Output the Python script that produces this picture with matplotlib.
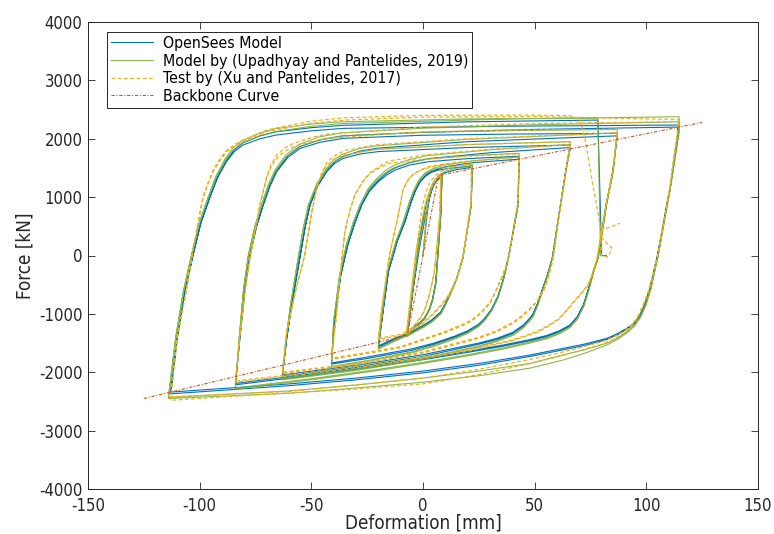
import numpy as np
import matplotlib
matplotlib.use('Agg')
import matplotlib.pyplot as plt

# Load histories as (deformation [mm], force [kN]) vertices, one branch per line
opensees_path = [
    (0, 0), (1.5, 600), (2.7, 950), (4, 1150), (5.5, 1260), (8.5, 1350),
    (7.9, 665), (6.8, 100), (5.7, -476), (4.2, -760), (2.7, -934), (0.5, -1080), (-1.8, -1161), (-5.5, -1260), (-7, -1360),
    (-4.5, -600), (-1.5, 150), (1, 650), (3, 1000), (4.5, 1180), (6, 1280), (8.5, 1370),
    (7.9, 680), (6.8, 110), (5.7, -470), (4.2, -770), (2.7, -940), (0.5, -1090), (-1.8, -1180), (-5.5, -1280), (-7, -1375),
    (-4.5, -600), (-1.5, 300), (1.5, 900), (3.5, 1130), (5, 1250), (7.5, 1360), (10, 1420), (15, 1470), (22, 1510),
    (21.6, 865), (17.8, -48), (15, -400), (12.5, -620), (10, -820), (8, -963), (4, -1100), (0.4, -1190), (-6, -1320), (-12.7, -1418), (-20, -1550),
    (-18.5, -1134), (-15.5, -277), (-11.5, 250), (-8.1, 579), (-5.5, 900), (-3.6, 1093), (-1.5, 1250), (0.9, 1350), (3.5, 1420), (6.8, 1464), (13, 1500), (22, 1530),
    (21.6, 870), (17.8, -40), (15, -410), (12.5, -630), (10, -830), (8, -980), (4, -1120), (0.4, -1210), (-6, -1340), (-12.7, -1440), (-20, -1570),
    (-18.5, -1134), (-15.5, -277), (-11.5, 250), (-8.1, 579), (-5.5, 900), (-3.6, 1093), (-1, 1290), (1.5, 1390), (5, 1460), (10, 1520), (22, 1590), (43, 1650),
    (42.6, 865), (38.2, -48), (36, -400), (33.5, -700), (30.7, -920), (27.5, -1080), (24.8, -1180), (20, -1290), (14.3, -1380), (5, -1500), (-5.1, -1600), (-25, -1740), (-41, -1841),
    (-39.7, -1134), (-36.8, -334), (-33.7, 180), (-30.5, 560), (-27.5, 865), (-24, 1100), (-20, 1264), (-16, 1385), (-12.5, 1464), (-6, 1550), (2.4, 1607), (20, 1660), (43, 1700),
    (42.6, 880), (38.2, -40), (36, -410), (33.5, -715), (30.7, -935), (27.5, -1100), (24.8, -1200), (20, -1310), (14.3, -1400), (5, -1520), (-5.1, -1625), (-25, -1765), (-41, -1860),
    (-39.7, -1134), (-36.8, -334), (-33.7, 180), (-30.5, 560), (-27.5, 865), (-24, 1120), (-20, 1290), (-16, 1420), (-12.5, 1500), (-6, 1590), (2.4, 1660), (30, 1760), (66, 1850),
    (63.9, 1435), (60.9, 693), (57.9, -48), (55.8, -320), (53.6, -563), (51.3, -820), (49, -1020), (45, -1190), (40, -1320), (33, -1420), (25, -1500), (0, -1700), (-30, -1880), (-63, -2047),
    (-61, -1418), (-58.8, -848), (-55, 0), (-52.8, 480), (-50.6, 865), (-47, 1200), (-43.1, 1435), (-39.5, 1580), (-35.7, 1665), (-28, 1740), (-20, 1780), (20, 1850), (66, 1893),
    (63.9, 1450), (60.9, 700), (57.9, -40), (55.8, -325), (53.6, -570), (51.3, -830), (49, -1030), (45, -1205), (40, -1340), (33, -1440), (25, -1520), (0, -1730), (-30, -1905), (-63, -2070),
    (-61, -1418), (-58.8, -848), (-55, 0), (-52.8, 480), (-50.6, 865), (-47, 1210), (-43.1, 1450), (-39.5, 1610), (-35.7, 1700), (-28, 1790), (-20, 1840), (20, 1950), (87, 2050),
    (85, 1435), (82, 865), (78.3, -48), (76.2, -277), (74, -580), (71.8, -848), (69, -1050), (65.8, -1190), (61, -1290), (55.4, -1370), (48, -1440), (35, -1540), (20, -1640), (0, -1760), (-20, -1870), (-50, -2030), (-84, -2190),
    (-82, -1418), (-79.7, -563), (-77.5, 0), (-74.5, 500), (-71.5, 865), (-68.5, 1190), (-65.5, 1435), (-60.5, 1680), (-55, 1836), (-46, 1940), (-35.7, 2007), (0, 2060), (40, 2080), (87, 2093),
    (85, 1450), (82, 870), (78.3, -40), (76.2, -280), (74, -590), (71.8, -860), (69, -1065), (65.8, -1210), (61, -1310), (55.4, -1390), (48, -1460), (35, -1560), (20, -1660), (0, -1785), (-20, -1895), (-50, -2055), (-84, -2215),
    (-82, -1418), (-79.7, -563), (-77.5, 0), (-74.5, 510), (-71.5, 880), (-68.5, 1210), (-65.5, 1460), (-60.5, 1710), (-55, 1870), (-46, 1980), (-35.7, 2050), (0, 2110), (50, 2160), (114, 2200),
    (114.3, 2064), (110.6, 1150), (105, 0), (101.6, -563), (99.5, -820), (97.2, -1020), (94.5, -1160), (91.2, -1248), (87, -1340), (82.3, -1420), (72, -1520), (62.8, -1590), (47.9, -1705), (25, -1850), (0, -1980), (-30, -2100), (-60, -2200), (-113, -2340),
    (-110, -1400), (-106.5, -600), (-103, 0), (-99.5, 550), (-95.5, 985), (-92, 1330), (-88, 1607), (-84.5, 1780), (-80.6, 1893), (-73, 2000), (-65.7, 2064), (-50, 2135), (-35.8, 2178), (40, 2215), (114, 2235),
    (114.3, 2080), (110.6, 1160), (105, 0), (101.6, -570), (99.5, -830), (97.2, -1030), (94.5, -1175), (91.2, -1265), (87, -1360), (82.3, -1440), (72, -1545), (62.8, -1615), (47.9, -1730), (25, -1880), (0, -2010), (-30, -2130), (-60, -2230), (-113, -2370),
    (-110, -1400), (-106.5, -600), (-103, 0), (-99.5, 560), (-95.5, 1000), (-92, 1350), (-88, 1630), (-84.5, 1810), (-80.6, 1930), (-73, 2050), (-65.7, 2120), (-50, 2190), (-35.8, 2230), (20, 2290), (78.3, 2320),
    (80, 0), (82, 0),
]

upadhyay_path = [
    (0, 0), (1.4, 600), (2.5, 950), (3.8, 1160), (5.3, 1270), (8.5, 1360),
    (7.9, 680), (6.9, 110), (5.8, -470), (4.3, -760), (2.8, -930), (0.6, -1085), (-1.7, -1170), (-5.5, -1280), (-7, -1380),
    (-4.7, -600), (-1.8, 150), (0.7, 650), (2.7, 1000), (4.2, 1190), (5.8, 1290), (8.5, 1380),
    (7.9, 690), (6.9, 115), (5.8, -460), (4.3, -770), (2.8, -935), (0.6, -1095), (-1.7, -1185), (-5.5, -1295), (-7, -1390),
    (-4.7, -600), (-1.8, 300), (1.2, 900), (3.2, 1140), (4.7, 1260), (7.2, 1380), (9.7, 1440), (15, 1495), (22, 1540),
    (21.6, 880), (17.9, -40), (15.1, -400), (12.7, -620), (10.2, -830), (8.2, -980), (4.2, -1120), (0.5, -1210), (-6, -1345), (-12.5, -1450), (-20, -1590),
    (-18.7, -1134), (-16, -277), (-12, 250), (-8.8, 579), (-6.2, 900), (-4.3, 1093), (-2.2, 1260), (0.2, 1370), (2.8, 1440), (6.3, 1490), (13, 1530), (22, 1560),
    (21.6, 885), (17.9, -35), (15.1, -405), (12.7, -625), (10.2, -840), (8.2, -990), (4.2, -1135), (0.5, -1225), (-6, -1360), (-12.5, -1465), (-20, -1605),
    (-18.7, -1134), (-16, -277), (-12, 250), (-8.8, 579), (-6.2, 900), (-4.3, 1093), (-1.7, 1300), (0.8, 1410), (4.5, 1490), (9.5, 1550), (22, 1620), (43, 1690),
    (42.6, 880), (38.3, -40), (36.1, -400), (33.6, -710), (30.8, -935), (27.6, -1100), (25, -1200), (20, -1320), (14.5, -1410), (5, -1540), (-5, -1650), (-25, -1800), (-41, -1900),
    (-40, -1134), (-37.3, -334), (-34.3, 180), (-31.2, 560), (-28.2, 865), (-24.7, 1110), (-20.7, 1290), (-16.7, 1420), (-13.2, 1500), (-6.5, 1590), (1.7, 1650), (20, 1710), (43, 1750),
    (42.6, 890), (38.3, -35), (36.1, -410), (33.6, -720), (30.8, -945), (27.6, -1115), (25, -1215), (20, -1335), (14.5, -1425), (5, -1555), (-5, -1665), (-25, -1815), (-41, -1915),
    (-40, -1134), (-37.3, -334), (-34.3, 180), (-31.2, 560), (-28.2, 865), (-24.7, 1140), (-20.7, 1320), (-16.7, 1460), (-13.2, 1540), (-6.5, 1640), (1.7, 1710), (30, 1810), (66, 1900),
    (64, 1440), (61, 700), (58, -40), (55.9, -325), (53.8, -570), (51.5, -830), (49.3, -1040), (45.3, -1215), (40.5, -1350), (33, -1460), (25, -1550), (0, -1760), (-30, -1950), (-63, -2110),
    (-61.3, -1418), (-59.3, -848), (-55.7, 0), (-53.5, 480), (-51.3, 865), (-47.7, 1200), (-43.8, 1435), (-40.2, 1590), (-36.4, 1690), (-28.7, 1770), (-20.7, 1820), (20, 1900), (66, 1950),
    (64, 1450), (61, 705), (58, -35), (55.9, -330), (53.8, -575), (51.5, -840), (49.3, -1050), (45.3, -1230), (40.5, -1365), (33, -1475), (25, -1565), (0, -1780), (-30, -1970), (-63, -2130),
    (-61.3, -1418), (-59.3, -848), (-55.7, 0), (-53.5, 480), (-51.3, 865), (-47.7, 1220), (-43.8, 1460), (-40.2, 1630), (-36.4, 1730), (-28.7, 1830), (-20.7, 1880), (20, 1990), (87, 2100),
    (85.2, 1440), (82.2, 870), (78.5, -40), (76.4, -280), (74.2, -590), (72, -860), (69.2, -1070), (66, -1215), (61.2, -1320), (56, -1400), (48, -1480), (35, -1590), (20, -1700), (0, -1830), (-20, -1950), (-50, -2110), (-84, -2270),
    (-82.3, -1418), (-80.3, -563), (-78.2, 0), (-75.2, 500), (-72.2, 865), (-69.2, 1190), (-66.2, 1435), (-61.2, 1690), (-55.7, 1860), (-46.7, 1980), (-36.4, 2050), (0, 2110), (40, 2140), (87, 2160),
    (85.2, 1450), (82.2, 875), (78.5, -35), (76.4, -285), (74.2, -600), (72, -870), (69.2, -1085), (66, -1230), (61.2, -1340), (56, -1420), (48, -1500), (35, -1610), (20, -1720), (0, -1850), (-20, -1970), (-50, -2130), (-84, -2290),
    (-82.3, -1418), (-80.3, -563), (-78.2, 0), (-75.2, 510), (-72.2, 880), (-69.2, 1220), (-66.2, 1470), (-61.2, 1730), (-55.7, 1900), (-46.7, 2030), (-36.4, 2100), (0, 2180), (50, 2240), (114.5, 2290),
    (114.5, 2100), (110.8, 1160), (105.3, 0), (102, -570), (99.8, -840), (97.5, -1040), (94.8, -1190), (91.5, -1300), (87.2, -1410), (82.5, -1500), (72, -1620), (62.8, -1700), (47.9, -1850), (25, -1980), (0, -2100), (-30, -2220), (-60, -2320), (-114, -2430),
    (-110.7, -1400), (-107.2, -600), (-103.7, 0), (-100.2, 550), (-96.2, 985), (-92.7, 1340), (-88.7, 1620), (-85.2, 1800), (-81.3, 1920), (-73.7, 2040), (-66.4, 2120), (-50.7, 2210), (-36.5, 2260), (40, 2340), (114.7, 2377),
    (114.7, 2120), (110.8, 1170), (105.3, 0), (102, -575), (99.8, -850), (97.5, -1050), (94.8, -1205), (91.5, -1320), (87.2, -1435), (82.5, -1530), (72, -1680), (62.8, -1790), (47.9, -1930), (25, -2060), (0, -2170), (-30, -2270), (-60, -2360), (-114, -2450),
    (-110.7, -1400), (-107.2, -600), (-103.7, 0), (-100.2, 560), (-96.2, 1000), (-92.7, 1360), (-88.7, 1650), (-85.2, 1840), (-81.3, 1960), (-73.7, 2090), (-66.4, 2170), (-50.7, 2250), (-36.5, 2290), (20, 2340), (78.3, 2355),
    (79.5, 0), (81.5, 0),
]

test_path = [
    (0, 0), (1, 500), (2, 900), (3.2, 1120), (4.5, 1250), (6, 1330), (8, 1380),
    (7.5, 700), (6.3, 200), (5, -300), (3, -650), (1, -900), (-1, -1050), (-3, -1150), (-6, -1300), (-7.5, -1350),
    (-5.5, -700), (-3, 100), (0, 700), (1.5, 930), (3, 1100), (4.5, 1230), (6, 1320), (8, 1390),
    (7.5, 700), (6.3, 200), (5, -300), (3, -660), (1, -920), (-1, -1070), (-3, -1170), (-6, -1310), (-7.5, -1360),
    (-5.5, -700), (-3, 100), (-0.5, 800), (1.2, 1080), (3, 1250), (5.5, 1370), (9, 1460), (15, 1530), (22, 1580),
    (21.5, 900), (18, 0), (16, -280), (14, -500), (11, -700), (8, -850), (4, -1010), (0, -1150), (-5, -1260), (-10, -1350), (-20, -1420),
    (-18.5, -900), (-15, 0), (-12.5, 450), (-11, 700), (-9, 1120), (-6.5, 1310), (-4, 1400), (0, 1480), (8, 1550), (21.6, 1607),
    (21.5, 900), (18, 0), (16, -290), (14, -520), (11, -720), (8, -870), (4, -1030), (0, -1170), (-5, -1280), (-10, -1370), (-20, -1440),
    (-18.5, -900), (-15, 0), (-12.5, 450), (-11, 700), (-9, 1120), (-6.5, 1310), (-4, 1400), (2, 1520), (15, 1600), (43, 1680),
    (42.5, 900), (38.5, 0), (37, -200), (35, -400), (32.5, -610), (30, -800), (26, -970), (22, -1100), (16, -1210), (10, -1300), (-10, -1560), (-25, -1660), (-41, -1760),
    (-39, -1100), (-37, -300), (-35, 408), (-32.8, 760), (-30.5, 1036), (-27, 1260), (-23.7, 1408), (-19, 1510), (-15, 1580), (0, 1650), (20, 1700), (43, 1740),
    (42.5, 910), (38.5, 0), (37, -205), (35, -410), (32.5, -620), (30, -820), (26, -990), (22, -1120), (16, -1230), (10, -1320), (-10, -1580), (-25, -1680), (-41, -1780),
    (-39, -1100), (-37, -300), (-35, 408), (-32.8, 760), (-30.5, 1036), (-27, 1270), (-23.7, 1420), (-19, 1540), (-15, 1620), (0, 1720), (30, 1820), (66, 1900),
    (64, 1450), (61, 700), (58, -100), (56, -380), (54, -600), (51, -780), (48, -905), (44, -1040), (40, -1150), (33, -1290), (25, -1400), (0, -1650), (-30, -1850), (-63, -2000),
    (-61, -1300), (-57, -600), (-53, 0), (-50, 700), (-47.6, 1150), (-45.5, 1380), (-43.1, 1550), (-39.5, 1660), (-35.7, 1720), (-20, 1820), (20, 1900), (66, 1950),
    (64, 1460), (61, 710), (58, -90), (56, -390), (54, -610), (51, -795), (48, -920), (44, -1060), (40, -1170), (33, -1310), (25, -1420), (0, -1670), (-30, -1870), (-63, -2020),
    (-61, -1300), (-57, -600), (-53, 0), (-50, 700), (-47.6, 1160), (-45.5, 1400), (-43, 1600), (-39, 1720), (-35, 1800), (-20, 1900), (20, 2000), (87, 2100),
    (85, 1450), (82, 870), (78, -48), (76, -300), (74, -500), (70, -676), (65.5, -880), (61, -1076), (56, -1200), (51, -1305), (40, -1447), (20, -1620), (-20, -1850), (-50, -2000), (-84, -2150),
    (-82, -1400), (-79.5, -563), (-77.5, -48), (-75, 450), (-73, 865), (-70, 1322), (-68, 1520), (-65.5, 1665), (-62, 1780), (-58, 1864), (-50, 1950), (-43, 2007), (0, 2120), (40, 2150), (87, 2160),
    (85, 1460), (82, 880), (78, -40), (76, -310), (74, -510), (70, -690), (65.5, -895), (61, -1090), (56, -1215), (51, -1320), (40, -1460), (20, -1640), (-20, -1870), (-50, -2020), (-84, -2170),
    (-82, -1400), (-79.5, -563), (-77.5, -48), (-75, 460), (-73, 880), (-70, 1350), (-68, 1560), (-65.5, 1720), (-62, 1840), (-58, 1920), (-50, 2020), (-43, 2080), (0, 2200), (50, 2260), (114.5, 2292),
    (114, 2100), (110.5, 1150), (105, 0), (103, -320), (101, -600), (98.5, -850), (96, -1060), (93, -1200), (90, -1300), (85, -1400), (80, -1480), (62, -1660), (48, -1780), (25, -1950), (0, -2100), (-60, -2330), (-113, -2420),
    (-110, -1400), (-106, -600), (-103.6, -48), (-101, 500), (-98.5, 980), (-96.2, 1230), (-94, 1435), (-91, 1620), (-88, 1778), (-84, 1880), (-80.5, 1950), (-70, 2120), (-50.6, 2264), (-35, 2320), (0, 2370), (50, 2380), (114.5, 2330),
    (114, 2150), (110.5, 1170), (105, 0), (103, -330), (101, -620), (98.5, -870), (96, -1080), (93, -1225), (90, -1330), (85, -1440), (80, -1520), (62, -1720), (48, -1850), (25, -2040), (0, -2200), (-35, -2300), (-80, -2400), (-113, -2480),
    (-110, -1400), (-106, -600), (-103.6, -48), (-101, 510), (-98.5, 1000), (-96.2, 1250), (-94, 1460), (-91, 1650), (-88, 1800), (-84, 1910), (-80.5, 1980), (-70, 2150), (-50.6, 2300), (-35, 2360), (0, 2400), (48, 2406), (66, 2395),
    (70.3, 2321), (72.5, 2012), (75.5, 1327), (78.5, 693), (80, 300), (84.5, 128), (83, -20), (80, -20), (80, 437), (88.2, 551),
]

backbone_x = [-125, -7, 7, 125]
backbone_f = [-2450, -1366, 1370, 2280]

x_ticks = [-150, -100, -50, 0, 50, 100, 150]
y_ticks = [-4000, -3000, -2000, -1000, 0, 1000, 2000, 3000, 4000]

plt.rcParams['font.family'] = ['DejaVu Sans']
plt.rcParams['font.stretch'] = 'condensed'
plt.rcParams['axes.unicode_minus'] = False

fig = plt.figure(figsize=(7.74, 5.34), dpi=100)
ax = fig.add_axes([88 / 774, 45 / 534, 670 / 774, 467 / 534])

blue = '#0072BD'
green = '#77AC30'
yellow = '#EDB120'
red = '#D95319'

ox, of = zip(*opensees_path)
ux, uf = zip(*upadhyay_path)
tx, tf = zip(*test_path)

ax.plot(ox, of, color=blue, lw=0.8, label='OpenSees Model')
ax.plot(ux, uf, color=green, lw=0.8, alpha=0.85, label='Model by (Upadhyay and Pantelides, 2019)')
ax.plot(tx, tf, color=yellow, lw=0.9, ls=(0, (3, 2)), label='Test by (Xu and Pantelides, 2017)')
ax.plot(backbone_x, backbone_f, color=red, lw=0.8, ls=(0, (3, 1.5, 1, 1.5)), label='Backbone Curve')

ax.set_xlim(-150, 150)
ax.set_ylim(-4000, 4000)
ax.set_xticks(x_ticks)
ax.set_yticks(y_ticks)
ax.tick_params(direction='in', length=5, width=0.6, top=True, right=True,
               labelsize=12, colors='#262626')
ax.tick_params(axis='x', pad=6)
ax.tick_params(axis='y', pad=4)
for s in ax.spines.values():
    s.set_linewidth(0.7)
    s.set_color('#262626')

ax.set_xlabel('Deformation [mm]', fontsize=13.5, color='#262626', labelpad=-1)
ax.set_ylabel('Force [kN]', fontsize=13.5, color='#262626')
ax.yaxis.set_label_coords(-0.08, 0.5)

leg = ax.legend(loc='upper left', bbox_to_anchor=((107 - 88) / 670, (489 - 32) / 467),
                borderaxespad=0, fontsize=11.3, handlelength=2.7, handletextpad=0.6,
                labelspacing=0.17, borderpad=0.25, fancybox=False, framealpha=1,
                edgecolor='#262626')
leg.get_frame().set_linewidth(0.7)

fig.savefig('out.png', dpi=100)
